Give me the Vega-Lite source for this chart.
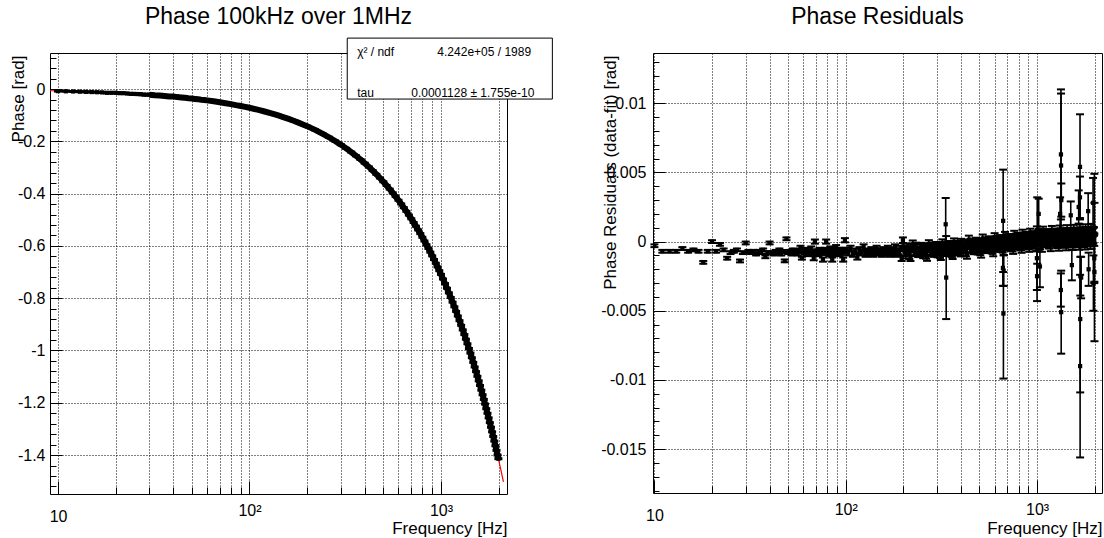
{
"$schema": "https://vega.github.io/schema/vega-lite/v6.json",
"background": "white",
"padding": {"left": 8, "top": 5, "right": 0, "bottom": 0},
"spacing": 146,
"bounds": "flush",
"config": {
 "font": "Liberation Sans",
 "view": {"stroke": "black", "strokeWidth": 1},
 "axis": {"domain": false, "labelFont": "Liberation Sans", "labelFontSize": 16, "labelColor": "black", "titleFont": "Liberation Sans", "titleFontSize": 17, "titleFontWeight": "normal", "titleColor": "black", "tickColor": "black", "tickWidth": 1, "grid": true, "gridColor": "black", "gridDash": [1, 2], "gridWidth": 1, "gridOpacity": 1, "labelFlush": false, "labelOverlap": false},
 "title": {"font": "Liberation Sans", "fontSize": 23, "fontWeight": "normal", "color": "black", "anchor": "middle", "frame": "group"},
 "text": {"font": "Liberation Sans", "color": "black"}
},
"datasets": {
 "phase": [
  {"f":10,"phase":-0.0078},{"f":11,"phase":-0.0085},{"f":12,"phase":-0.0092},{"f":13,"phase":-0.0099},{"f":14,"phase":-0.0106},{"f":15,"phase":-0.0113},{"f":16,"phase":-0.0120},{"f":17,"phase":-0.0127},{"f":18,"phase":-0.0143},{"f":19,"phase":-0.0142},{"f":20,"phase":-0.0142},{"f":21,"phase":-0.0156},{"f":22,"phase":-0.0158},{"f":23,"phase":-0.0169},{"f":24,"phase":-0.0182},{"f":25,"phase":-0.0185},{"f":26,"phase":-0.0191},{"f":27,"phase":-0.0197},{"f":28,"phase":-0.0212},{"f":29,"phase":-0.0214},{"f":30,"phase":-0.0214},
  {"f":32,"phase":-0.0235},{"f":34,"phase":-0.0250},{"f":36,"phase":-0.0263},{"f":38,"phase":-0.0280},{"f":40,"phase":-0.0284},{"f":42,"phase":-0.0307},{"f":44,"phase":-0.0320},{"f":46,"phase":-0.0335},{"f":48,"phase":-0.0354},{"f":50,"phase":-0.0362},{"f":52,"phase":-0.0378},{"f":54,"phase":-0.0391},{"f":56,"phase":-0.0406},{"f":58,"phase":-0.0415},{"f":60,"phase":-0.0432},
  {"f":65,"phase":-0.0469},{"f":70,"phase":-0.0504},{"f":75,"phase":-0.0539},{"f":80,"phase":-0.0575},{"f":85,"phase":-0.0615},{"f":90,"phase":-0.0646},{"f":95,"phase":-0.0681},{"f":100,"phase":-0.0715},
  {"f":110,"phase":-0.0787},{"f":120,"phase":-0.0858},{"f":130,"phase":-0.0928},{"f":140,"phase":-0.0999},{"f":150,"phase":-0.1070},{"f":160,"phase":-0.1141},{"f":170,"phase":-0.1212},{"f":180,"phase":-0.1283},{"f":190,"phase":-0.1354},{"f":200,"phase":-0.1418},
  {"f":220,"phase":-0.1559},{"f":240,"phase":-0.1701},{"f":260,"phase":-0.1843},{"f":280,"phase":-0.1985},{"f":300,"phase":-0.2126},{"f":320,"phase":-0.2268},{"f":340,"phase":-0.2410},{"f":360,"phase":-0.2552},{"f":380,"phase":-0.2693},{"f":400,"phase":-0.2835},
  {"f":420,"phase":-0.2977},{"f":440,"phase":-0.3119},{"f":460,"phase":-0.3260},{"f":480,"phase":-0.3402},{"f":500,"phase":-0.3544},{"f":520,"phase":-0.3686},{"f":540,"phase":-0.3827},{"f":560,"phase":-0.3969},{"f":580,"phase":-0.4111},{"f":600,"phase":-0.4253},
  {"f":620,"phase":-0.4394},{"f":640,"phase":-0.4536},{"f":660,"phase":-0.4678},{"f":680,"phase":-0.4820},{"f":700,"phase":-0.4961},{"f":720,"phase":-0.5103},{"f":740,"phase":-0.5245},{"f":760,"phase":-0.5387},{"f":780,"phase":-0.5528},{"f":800,"phase":-0.5670},
  {"f":820,"phase":-0.5812},{"f":840,"phase":-0.5954},{"f":860,"phase":-0.6095},{"f":880,"phase":-0.6237},{"f":900,"phase":-0.6379},{"f":920,"phase":-0.6521},{"f":940,"phase":-0.6662},{"f":960,"phase":-0.6804},{"f":980,"phase":-0.6946},{"f":1000,"phase":-0.7088},
  {"f":1025,"phase":-0.7265},{"f":1050,"phase":-0.7442},{"f":1075,"phase":-0.7619},{"f":1100,"phase":-0.7796},{"f":1125,"phase":-0.7973},{"f":1150,"phase":-0.8151},{"f":1175,"phase":-0.8328},{"f":1200,"phase":-0.8505},{"f":1225,"phase":-0.8682},{"f":1250,"phase":-0.8859},
  {"f":1275,"phase":-0.9037},{"f":1300,"phase":-0.9214},{"f":1325,"phase":-0.9391},{"f":1350,"phase":-0.9568},{"f":1375,"phase":-0.9745},{"f":1400,"phase":-0.9923},{"f":1425,"phase":-1.0100},{"f":1450,"phase":-1.0277},{"f":1475,"phase":-1.0454},{"f":1500,"phase":-1.0631},
  {"f":1525,"phase":-1.0808},{"f":1550,"phase":-1.0986},{"f":1575,"phase":-1.1163},{"f":1600,"phase":-1.1340},{"f":1625,"phase":-1.1517},{"f":1650,"phase":-1.1694},{"f":1675,"phase":-1.1872},{"f":1700,"phase":-1.2049},{"f":1725,"phase":-1.2226},{"f":1750,"phase":-1.2403},
  {"f":1775,"phase":-1.2580},{"f":1800,"phase":-1.2758},{"f":1825,"phase":-1.2935},{"f":1850,"phase":-1.3112},{"f":1875,"phase":-1.3289},{"f":1900,"phase":-1.3466},{"f":1925,"phase":-1.3643},{"f":1950,"phase":-1.3821},{"f":1975,"phase":-1.3998},{"f":1995,"phase":-1.4140}
 ],
 "fit": [
  {"f":9.08,"phase":-0.00644},{"f":10,"phase":-0.00709},{"f":12,"phase":-0.0085},{"f":15,"phase":-0.01063},{"f":20,"phase":-0.01418},{"f":25,"phase":-0.01772},{"f":30,"phase":-0.02126},{"f":40,"phase":-0.02835},{"f":50,"phase":-0.03544},{"f":70,"phase":-0.04961},{"f":100,"phase":-0.07088},{"f":150,"phase":-0.10631},{"f":200,"phase":-0.14175},{"f":300,"phase":-0.21263},{"f":400,"phase":-0.2835},{"f":500,"phase":-0.35438},{"f":600,"phase":-0.42525},{"f":800,"phase":-0.567},{"f":1000,"phase":-0.70875},{"f":1200,"phase":-0.8505},{"f":1400,"phase":-0.99225},{"f":1600,"phase":-1.134},{"f":1800,"phase":-1.27575},{"f":1900,"phase":-1.34663},{"f":2000,"phase":-1.4175},{"f":2060,"phase":-1.46003},{"f":2120,"phase":-1.50255}
 ],
 "box": [{"f":324,"f2":3819,"phase":0.195,"phase2":-0.0382}],
 "statsL": [{"f":365,"phase":0.1415,"t":"χ² / ndf"},{"f":365,"phase":-0.0165,"t":"tau"}],
 "statsR": [{"f":2958,"phase":0.1415,"t":"4.242e+05 / 1989"},{"f":3076,"phase":-0.0165,"t":"0.0001128  ± 1.755e-10"}],
 "resid": [
  {"f":10,"r":-0.0003,"e":0.0001},{"f":11,"r":-0.0007,"e":0.0001},{"f":12,"r":-0.0007,"e":0.0001},{"f":13,"r":-0.0007,"e":0.0001},{"f":14,"r":-0.0005,"e":0.0001},{"f":15,"r":-0.0007,"e":0.0001},{"f":16,"r":-0.0006,"e":0.0001},{"f":17,"r":-0.0007,"e":0.0001},{"f":18,"r":-0.0015,"e":0.0001},{"f":19,"r":-0.0007,"e":0.0001},
  {"f":20,"r":0,"e":0.0001},{"f":21,"r":-0.0007,"e":0.0001},{"f":22,"r":-0.0002,"e":0.0001},{"f":23,"r":-0.0006,"e":0.0001},{"f":24,"r":-0.0012,"e":0.0001},{"f":25,"r":-0.0008,"e":0.0001},{"f":26,"r":-0.0007,"e":0.0001},{"f":27,"r":-0.0006,"e":0.0001},{"f":28,"r":-0.0014,"e":0.0001},{"f":29,"r":-0.0008,"e":0.0001},
  {"f":30,"r":-0.0001,"e":0.0001},{"f":31,"r":-0.0007,"e":0.0001},{"f":32,"r":-0.0008,"e":0.0001},{"f":33,"r":-0.0007,"e":0.0001},{"f":34,"r":-0.0009,"e":0.0001},{"f":35,"r":-0.0007,"e":0.0001},{"f":36,"r":-0.0008,"e":0.0001},{"f":37,"r":-0.0006,"e":0.0001},{"f":38,"r":-0.0011,"e":0.0001},{"f":39,"r":-0.0008,"e":0.0001},
  {"f":40,"r":-0.0001,"e":0.0001},{"f":41,"r":-0.0008,"e":0.0001},{"f":42,"r":-0.0009,"e":0.0001},{"f":43,"r":-0.0007,"e":0.0001},{"f":44,"r":-0.0008,"e":0.0001},{"f":45,"r":-0.0006,"e":0.0001},{"f":46,"r":-0.0009,"e":0.0001},{"f":47,"r":-0.0007,"e":0.0001},{"f":48,"r":-0.0014,"e":0.0001},{"f":49,"r":0.0002,"e":0.0001},
  {"f":50,"r":-0.0008,"e":0.0001},{"f":51,"r":-0.0007,"e":0.0001},{"f":52,"r":-0.0009,"e":0.0001},{"f":53,"r":-0.0006,"e":0.0001},{"f":54,"r":-0.0008,"e":0.0001},{"f":55,"r":-0.0007,"e":0.0001},{"f":56,"r":-0.0009,"e":0.0001},{"f":57,"r":-0.0007,"e":0.0001},{"f":58,"r":-0.0004,"e":0.0001},{"f":59,"r":-0.0012,"e":0.0001},
  {"f":60,"r":-0.0007,"e":0.0001},{"f":61,"r":-0.0008,"e":0.00015},{"f":62,"r":-0.0006,"e":0.00015},{"f":63,"r":-0.0009,"e":0.00015},{"f":64,"r":-0.0007,"e":0.00015},{"f":65,"r":-0.0008,"e":0.00015},{"f":66,"r":-0.0005,"e":0.00015},{"f":67,"r":-0.0008,"e":0.00015},{"f":68,"r":-0.0012,"e":0.00015},{"f":69,"r":0,"e":0.00015},
  {"f":70,"r":-0.0008,"e":0.00015},{"f":71,"r":-0.0007,"e":0.00015},{"f":72,"r":-0.0009,"e":0.00015},{"f":73,"r":-0.0006,"e":0.00015},{"f":74,"r":-0.0008,"e":0.00015},{"f":75,"r":-0.0007,"e":0.00015},{"f":76,"r":-0.0013,"e":0.00015},{"f":77,"r":-0.0008,"e":0.00015},{"f":78,"r":-0.0006,"e":0.00015},{"f":79,"r":0,"e":0.00015},
  {"f":80,"r":-0.0008,"e":0.00015},{"f":81,"r":-0.0007,"e":0.00015},{"f":82,"r":-0.0009,"e":0.00015},{"f":83,"r":-0.0005,"e":0.00015},{"f":84,"r":-0.0008,"e":0.00015},{"f":85,"r":-0.0013,"e":0.00015},{"f":86,"r":-0.0007,"e":0.00015},{"f":87,"r":-0.0009,"e":0.00015},{"f":88,"r":-0.0006,"e":0.00015},{"f":89,"r":-0.0004,"e":0.00015},
  {"f":90,"r":-0.0008,"e":0.00015},{"f":91,"r":-0.0007,"e":0.00015},{"f":92,"r":-0.0006,"e":0.00015},{"f":93,"r":-0.0009,"e":0.00015},{"f":94,"r":-0.0007,"e":0.00015},{"f":95,"r":-0.0008,"e":0.00015},{"f":96,"r":-0.0006,"e":0.00015},{"f":97,"r":-0.0013,"e":0.00015},{"f":98,"r":-0.0007,"e":0.00015},{"f":99,"r":0.0001,"e":0.00015},
  {"f":100,"r":-0.0006,"e":0.00015},{"f":103,"r":-0.0008,"e":0.0002},{"f":106,"r":-0.0005,"e":0.0002},{"f":109,"r":-0.0009,"e":0.0002},{"f":112,"r":-0.0007,"e":0.0002},{"f":115,"r":-0.0011,"e":0.0002},{"f":118,"r":-0.0006,"e":0.0002},{"f":121,"r":-0.0008,"e":0.0002},{"f":124,"r":-0.0004,"e":0.0002},{"f":127,"r":-0.0009,"e":0.0002},
  {"f":130,"r":-0.0007,"e":0.0002},{"f":133,"r":-0.0008,"e":0.0002},{"f":136,"r":-0.0006,"e":0.0002},{"f":139,"r":-0.0009,"e":0.0002},{"f":142,"r":-0.0007,"e":0.0002},{"f":145,"r":-0.0005,"e":0.0002},{"f":148,"r":-0.0008,"e":0.0002},{"f":151,"r":-0.0007,"e":0.0002},{"f":154,"r":-0.0009,"e":0.0002},{"f":157,"r":-0.0006,"e":0.0002},
  {"f":160,"r":-0.0008,"e":0.0002},{"f":163,"r":-0.0007,"e":0.0002},{"f":166,"r":-0.0005,"e":0.0002},{"f":169,"r":-0.0009,"e":0.0002},{"f":172,"r":-0.0007,"e":0.0002},{"f":175,"r":-0.0008,"e":0.0002},{"f":178,"r":-0.0006,"e":0.0002},{"f":181,"r":-0.0004,"e":0.0002},{"f":184,"r":-0.0009,"e":0.0002},{"f":187,"r":-0.0007,"e":0.0002},
  {"f":190,"r":-0.0008,"e":0.0002},{"f":193,"r":-0.0005,"e":0.0002},{"f":196,"r":-0.0012,"e":0.0002},{"f":199,"r":0.0001,"e":0.0002},
  {"f":200,"r":-0.00035,"e":0.00024},{"f":206,"r":-0.0009,"e":0.00032},{"f":212,"r":-0.00055,"e":0.0002},{"f":218,"r":-0.00105,"e":0.00036},{"f":224,"r":-0.0002,"e":0.00028},{"f":230,"r":-0.00075,"e":0.00024},{"f":236,"r":-0.0006,"e":0.0004},{"f":242,"r":-0.00085,"e":0.00024},
  {"f":248,"r":-0.00033,"e":0.00024},{"f":254,"r":-0.00088,"e":0.00032},{"f":260,"r":-0.00053,"e":0.0002},{"f":266,"r":-0.00103,"e":0.00036},{"f":272,"r":-0.00018,"e":0.00028},{"f":278,"r":-0.00073,"e":0.00024},{"f":284,"r":-0.00058,"e":0.0004},{"f":290,"r":-0.00083,"e":0.00024},
  {"f":296,"r":-0.00027,"e":0.00024},{"f":302,"r":-0.00082,"e":0.00032},{"f":308,"r":-0.00047,"e":0.0002},{"f":314,"r":-0.00097,"e":0.00036},{"f":320,"r":-0.00012,"e":0.00028},{"f":326,"r":-0.00067,"e":0.00024},{"f":332,"r":-0.00052,"e":0.0004},{"f":338,"r":-0.00077,"e":0.00024},
  {"f":333,"r":0.00125,"e":0.0019},{"f":335,"r":-0.0026,"e":0.003},
  {"f":344,"r":-0.0002,"e":0.00024},{"f":350,"r":-0.00075,"e":0.00032},{"f":356,"r":-0.0004,"e":0.0002},{"f":362,"r":-0.0009,"e":0.00036},{"f":368,"r":-0.00005,"e":0.00028},{"f":374,"r":-0.0006,"e":0.00024},{"f":380,"r":-0.00045,"e":0.0004},{"f":386,"r":-0.0007,"e":0.00024},{"f":392,"r":-0.0002,"e":0.00024},{"f":398,"r":-0.00075,"e":0.00032},
  {"f":203,"r":-0.00075,"e":0.00032},{"f":209,"r":-0.000375,"e":0.00024},{"f":215,"r":-0.0009,"e":0.00036},{"f":221,"r":-0.0005,"e":0.00028},{"f":227,"r":-0.00065,"e":0.0004},{"f":233,"r":-0.000325,"e":0.00024},{"f":239,"r":-0.0008,"e":0.00032},{"f":245,"r":-0.000425,"e":0.00028},
  {"f":251,"r":-0.00073,"e":0.00032},{"f":257,"r":-0.000355,"e":0.00024},{"f":263,"r":-0.00088,"e":0.00036},{"f":269,"r":-0.00048,"e":0.00028},{"f":275,"r":-0.00063,"e":0.0004},{"f":281,"r":-0.000305,"e":0.00024},{"f":287,"r":-0.00078,"e":0.00032},{"f":293,"r":-0.000405,"e":0.00028},
  {"f":299,"r":-0.00067,"e":0.00032},{"f":305,"r":-0.000295,"e":0.00024},{"f":311,"r":-0.00082,"e":0.00036},{"f":317,"r":-0.00042,"e":0.00028},{"f":323,"r":-0.00057,"e":0.0004},{"f":329,"r":-0.000245,"e":0.00024},{"f":336,"r":-0.00072,"e":0.00032},{"f":341,"r":-0.000345,"e":0.00028},
  {"f":347,"r":-0.0006,"e":0.00032},{"f":353,"r":-0.000225,"e":0.00024},{"f":359,"r":-0.00075,"e":0.00036},{"f":365,"r":-0.00035,"e":0.00028},{"f":371,"r":-0.0005,"e":0.0004},{"f":377,"r":-0.000175,"e":0.00024},{"f":383,"r":-0.00065,"e":0.00032},{"f":389,"r":-0.000275,"e":0.00028},{"f":395,"r":-0.0006,"e":0.00032},
  {"f":400,"r":-0.00005,"e":0.00025},{"f":410,"r":-0.00071,"e":0.0003},{"f":420,"r":-0.00029,"e":0.0002},{"f":430,"r":-0.00089,"e":0.00035},{"f":440,"r":0.00013,"e":0.0003},{"f":450,"r":-0.00053,"e":0.00025},{"f":460,"r":-0.00035,"e":0.0004},{"f":470,"r":-0.00065,"e":0.00025},
  {"f":480,"r":0.00003,"e":0.00025},{"f":490,"r":-0.00063,"e":0.0003},{"f":500,"r":-0.00021,"e":0.0002},{"f":510,"r":-0.00081,"e":0.00035},{"f":520,"r":0.00021,"e":0.0003},{"f":530,"r":-0.00045,"e":0.00025},{"f":540,"r":-0.00027,"e":0.0004},{"f":550,"r":-0.00057,"e":0.00025},
  {"f":560,"r":0.00013,"e":0.00025},{"f":570,"r":-0.00053,"e":0.0003},{"f":580,"r":-0.00011,"e":0.0002},{"f":590,"r":-0.00071,"e":0.00035},{"f":600,"r":0.00031,"e":0.0003},{"f":610,"r":-0.00035,"e":0.00025},{"f":620,"r":-0.00017,"e":0.0004},{"f":630,"r":-0.00047,"e":0.00025},
  {"f":640,"r":0.00022,"e":0.00025},{"f":650,"r":-0.00044,"e":0.0003},{"f":660,"r":-0.00002,"e":0.0002},{"f":670,"r":-0.00062,"e":0.00035},{"f":680,"r":0.0004,"e":0.0003},{"f":690,"r":-0.00026,"e":0.00025},{"f":700,"r":-0.00008,"e":0.0004},{"f":710,"r":-0.00038,"e":0.00025},
  {"f":663,"r":-0.0019,"e":0.0013},{"f":665,"r":0.0015,"e":0.0037},{"f":667,"r":-0.0052,"e":0.0047},{"f":669,"r":-0.0021,"e":0.0011},
  {"f":720,"r":0.0003,"e":0.00025},{"f":730,"r":-0.00036,"e":0.0003},{"f":740,"r":0.00006,"e":0.0002},{"f":750,"r":-0.00054,"e":0.00035},{"f":760,"r":0.00048,"e":0.0003},{"f":770,"r":-0.00018,"e":0.00025},{"f":780,"r":0,"e":0.0004},{"f":790,"r":-0.0003,"e":0.00025},
  {"f":800,"r":0.00038,"e":0.00025},{"f":810,"r":-0.00028,"e":0.0003},{"f":820,"r":0.00014,"e":0.0002},{"f":830,"r":-0.00046,"e":0.00035},{"f":840,"r":0.00056,"e":0.0003},{"f":850,"r":-0.0001,"e":0.00025},{"f":860,"r":0.00008,"e":0.0004},{"f":870,"r":-0.00022,"e":0.00025},
  {"f":880,"r":0.00045,"e":0.00025},{"f":890,"r":-0.00021,"e":0.0003},{"f":900,"r":0.00021,"e":0.0002},{"f":910,"r":-0.00039,"e":0.00035},{"f":920,"r":0.00063,"e":0.0003},{"f":930,"r":-0.00003,"e":0.00025},{"f":940,"r":0.00015,"e":0.0004},{"f":950,"r":-0.00015,"e":0.00025},
  {"f":960,"r":0.0005,"e":0.00025},{"f":970,"r":-0.00016,"e":0.0003},{"f":980,"r":0.00026,"e":0.0002},{"f":990,"r":-0.00034,"e":0.00035},
  {"f":405,"r":-0.00053,"e":0.00032},{"f":415,"r":-0.00008,"e":0.00024},{"f":425,"r":-0.00071,"e":0.00036},{"f":435,"r":-0.00023,"e":0.00028},{"f":445,"r":-0.00041,"e":0.0004},{"f":455,"r":-0.00002,"e":0.00024},{"f":465,"r":-0.00059,"e":0.00032},{"f":475,"r":-0.00014,"e":0.00028},
  {"f":485,"r":-0.00045,"e":0.00032},{"f":495,"r":0,"e":0.00024},{"f":505,"r":-0.00063,"e":0.00036},{"f":515,"r":-0.00015,"e":0.00028},{"f":525,"r":-0.00033,"e":0.0004},{"f":535,"r":0.00006,"e":0.00024},{"f":545,"r":-0.00051,"e":0.00032},{"f":555,"r":-0.00006,"e":0.00028},
  {"f":565,"r":-0.00035,"e":0.00032},{"f":575,"r":0.0001,"e":0.00024},{"f":585,"r":-0.00053,"e":0.00036},{"f":595,"r":-0.00005,"e":0.00028},{"f":605,"r":-0.00023,"e":0.0004},{"f":615,"r":0.00016,"e":0.00024},{"f":625,"r":-0.00041,"e":0.00032},{"f":635,"r":0.00004,"e":0.00028},
  {"f":645,"r":-0.00026,"e":0.00032},{"f":655,"r":0.00019,"e":0.00024},{"f":661,"r":-0.00044,"e":0.00036},{"f":675,"r":0.00004,"e":0.00028},{"f":685,"r":-0.00014,"e":0.0004},{"f":695,"r":0.00025,"e":0.00024},{"f":705,"r":-0.00032,"e":0.00032},{"f":715,"r":0.00013,"e":0.00028},
  {"f":725,"r":-0.00018,"e":0.00032},{"f":735,"r":0.00027,"e":0.00024},{"f":745,"r":-0.00036,"e":0.00036},{"f":755,"r":0.00012,"e":0.00028},{"f":765,"r":-0.00006,"e":0.0004},{"f":775,"r":0.00033,"e":0.00024},{"f":785,"r":-0.00024,"e":0.00032},{"f":795,"r":0.00021,"e":0.00028},
  {"f":805,"r":-0.0001,"e":0.00032},{"f":815,"r":0.00035,"e":0.00024},{"f":825,"r":-0.00028,"e":0.00036},{"f":835,"r":0.0002,"e":0.00028},{"f":845,"r":0.00002,"e":0.0004},{"f":855,"r":0.00041,"e":0.00024},{"f":865,"r":-0.00016,"e":0.00032},{"f":875,"r":0.00029,"e":0.00028},
  {"f":885,"r":-0.00003,"e":0.00032},{"f":895,"r":0.00042,"e":0.00024},{"f":905,"r":-0.00021,"e":0.00036},{"f":915,"r":0.00027,"e":0.00028},{"f":925,"r":0.00009,"e":0.0004},{"f":935,"r":0.00048,"e":0.00024},{"f":945,"r":-0.00009,"e":0.00032},{"f":955,"r":0.00036,"e":0.00028},
  {"f":965,"r":0.00002,"e":0.00032},{"f":975,"r":0.00047,"e":0.00024},{"f":985,"r":-0.00016,"e":0.00036},{"f":995,"r":0.00032,"e":0.00028},
  {"f":998,"r":-0.0012,"e":0.0023},{"f":1000,"r":-0.0025,"e":0.0018},{"f":1002,"r":0.0008,"e":0.0024},
  {"f":1015,"r":0.00055,"e":0.0003},{"f":1030,"r":-0.00011,"e":0.0004},{"f":1045,"r":0.00031,"e":0.00025},{"f":1060,"r":-0.00029,"e":0.00045},{"f":1075,"r":0.00073,"e":0.00035},{"f":1090,"r":0.00007,"e":0.0003},{"f":1105,"r":0.00025,"e":0.0005},{"f":1120,"r":-0.00005,"e":0.0003},
  {"f":1020,"r":0.002,"e":0.0011},{"f":1035,"r":-0.0018,"e":0.0015},
  {"f":1135,"r":0.0006,"e":0.0003},{"f":1150,"r":-0.00006,"e":0.0004},{"f":1165,"r":0.00036,"e":0.00025},{"f":1180,"r":-0.00024,"e":0.00045},{"f":1195,"r":0.00078,"e":0.00035},{"f":1210,"r":0.00012,"e":0.0003},{"f":1225,"r":0.0003,"e":0.0005},{"f":1240,"r":0,"e":0.0003},
  {"f":1255,"r":0.00063,"e":0.0003},{"f":1270,"r":-0.00003,"e":0.0004},{"f":1285,"r":0.00039,"e":0.00025},{"f":1300,"r":-0.00021,"e":0.00045},{"f":1315,"r":0.00081,"e":0.00035},{"f":1330,"r":0.00015,"e":0.0003},{"f":1345,"r":0.00033,"e":0.0005},{"f":1360,"r":0.00003,"e":0.0003},
  {"f":1320,"r":0.002,"e":0.0012},{"f":1331,"r":-0.0035,"e":0.0012},{"f":1333,"r":0.0063,"e":0.0047},{"f":1335,"r":0.0055,"e":0.0052},{"f":1337,"r":-0.0051,"e":0.003},{"f":1339,"r":0.003,"e":0.0012},
  {"f":1375,"r":0.00066,"e":0.0003},{"f":1390,"r":0,"e":0.0004},{"f":1405,"r":0.00042,"e":0.00025},{"f":1420,"r":-0.00018,"e":0.00045},{"f":1435,"r":0.00084,"e":0.00035},{"f":1450,"r":0.00018,"e":0.0003},{"f":1465,"r":0.00036,"e":0.0005},{"f":1480,"r":0.00006,"e":0.0003},
  {"f":1495,"r":0.00068,"e":0.0003},{"f":1510,"r":0.00002,"e":0.0004},{"f":1525,"r":0.00044,"e":0.00025},{"f":1540,"r":-0.00016,"e":0.00045},{"f":1555,"r":0.00086,"e":0.00035},{"f":1570,"r":0.0002,"e":0.0003},{"f":1585,"r":0.00038,"e":0.0005},{"f":1600,"r":0.00008,"e":0.0003},
  {"f":1500,"r":0.0019,"e":0.001},{"f":1520,"r":-0.0017,"e":0.0011},
  {"f":1615,"r":0.0007,"e":0.0003},{"f":1630,"r":0.00004,"e":0.0004},{"f":1645,"r":0.00046,"e":0.00025},{"f":1660,"r":-0.00014,"e":0.00045},{"f":1675,"r":0.00088,"e":0.00035},{"f":1690,"r":0.00022,"e":0.0003},{"f":1705,"r":0.0004,"e":0.0005},{"f":1720,"r":0.0001,"e":0.0003},
  {"f":1650,"r":0.0025,"e":0.0012},{"f":1676,"r":0.0032,"e":0.0015},{"f":1677,"r":0.0054,"e":0.0038},{"f":1679,"r":-0.009,"e":0.0066},{"f":1681,"r":-0.0056,"e":0.0053},{"f":1683,"r":-0.0025,"e":0.0014},{"f":1700,"r":-0.0026,"e":0.0015},
  {"f":1735,"r":0.00072,"e":0.0003},{"f":1750,"r":0.00006,"e":0.0004},{"f":1765,"r":0.00048,"e":0.00025},{"f":1780,"r":-0.00012,"e":0.00045},{"f":1795,"r":0.0009,"e":0.00035},{"f":1810,"r":0.00024,"e":0.0003},{"f":1825,"r":0.00042,"e":0.0005},{"f":1840,"r":0.00012,"e":0.0003},
  {"f":1850,"r":0.0022,"e":0.0013},{"f":1860,"r":-0.002,"e":0.0012},
  {"f":1855,"r":0.00075,"e":0.0003},{"f":1870,"r":0.00009,"e":0.0004},{"f":1885,"r":0.00051,"e":0.00025},{"f":1900,"r":-0.00009,"e":0.00045},{"f":1915,"r":0.00093,"e":0.00035},{"f":1930,"r":0.00027,"e":0.0003},{"f":1945,"r":0.00045,"e":0.0005},{"f":1960,"r":0.00015,"e":0.0003},
  {"f":1962,"r":0.0028,"e":0.0018},{"f":1970,"r":-0.003,"e":0.002},{"f":1975,"r":0.00075,"e":0.0003},{"f":1990,"r":0.00009,"e":0.0004},
  {"f":1991,"r":-0.0012,"e":0.0018},{"f":1993,"r":0.001,"e":0.0039},{"f":1995,"r":-0.0022,"e":0.005},
  {"f":1008,"r":0.00007,"e":0.0004},{"f":1023,"r":0.00052,"e":0.0003},{"f":1038,"r":-0.00011,"e":0.00045},{"f":1053,"r":0.00037,"e":0.00035},{"f":1068,"r":0.00019,"e":0.0005},{"f":1083,"r":0.00058,"e":0.0003},{"f":1098,"r":0.00001,"e":0.0004},{"f":1113,"r":0.00046,"e":0.00035},
  {"f":1128,"r":0.00012,"e":0.0004},{"f":1143,"r":0.00057,"e":0.0003},{"f":1158,"r":-0.00006,"e":0.00045},{"f":1173,"r":0.00042,"e":0.00035},{"f":1188,"r":0.00024,"e":0.0005},{"f":1203,"r":0.00063,"e":0.0003},{"f":1218,"r":0.00006,"e":0.0004},{"f":1233,"r":0.00051,"e":0.00035},
  {"f":1248,"r":0.00015,"e":0.0004},{"f":1263,"r":0.0006,"e":0.0003},{"f":1278,"r":-0.00003,"e":0.00045},{"f":1293,"r":0.00045,"e":0.00035},{"f":1308,"r":0.00027,"e":0.0005},{"f":1323,"r":0.00066,"e":0.0003},{"f":1338,"r":0.00009,"e":0.0004},{"f":1353,"r":0.00054,"e":0.00035},
  {"f":1368,"r":0.00018,"e":0.0004},{"f":1383,"r":0.00063,"e":0.0003},{"f":1398,"r":0,"e":0.00045},{"f":1413,"r":0.00048,"e":0.00035},{"f":1428,"r":0.0003,"e":0.0005},{"f":1443,"r":0.00069,"e":0.0003},{"f":1458,"r":0.00012,"e":0.0004},{"f":1473,"r":0.00057,"e":0.00035},
  {"f":1488,"r":0.0002,"e":0.0004},{"f":1503,"r":0.00065,"e":0.0003},{"f":1518,"r":0.00002,"e":0.00045},{"f":1533,"r":0.0005,"e":0.00035},{"f":1548,"r":0.00032,"e":0.0005},{"f":1563,"r":0.00071,"e":0.0003},{"f":1578,"r":0.00014,"e":0.0004},{"f":1593,"r":0.00059,"e":0.00035},
  {"f":1608,"r":0.00022,"e":0.0004},{"f":1623,"r":0.00067,"e":0.0003},{"f":1638,"r":0.00004,"e":0.00045},{"f":1653,"r":0.00052,"e":0.00035},{"f":1668,"r":0.00034,"e":0.0005},{"f":1684,"r":0.00073,"e":0.0003},{"f":1698,"r":0.00016,"e":0.0004},{"f":1713,"r":0.00061,"e":0.00035},
  {"f":1728,"r":0.00024,"e":0.0004},{"f":1743,"r":0.00069,"e":0.0003},{"f":1758,"r":0.00006,"e":0.00045},{"f":1773,"r":0.00054,"e":0.00035},{"f":1788,"r":0.00036,"e":0.0005},{"f":1803,"r":0.00075,"e":0.0003},{"f":1818,"r":0.00018,"e":0.0004},{"f":1833,"r":0.00063,"e":0.00035},
  {"f":1848,"r":0.00027,"e":0.0004},{"f":1863,"r":0.00072,"e":0.0003},{"f":1878,"r":0.00009,"e":0.00045},{"f":1893,"r":0.00057,"e":0.00035},{"f":1908,"r":0.00039,"e":0.0005},{"f":1923,"r":0.00078,"e":0.0003},{"f":1938,"r":0.00021,"e":0.0004},{"f":1953,"r":0.00066,"e":0.00035},
  {"f":1968,"r":0.00027,"e":0.0004},{"f":1983,"r":0.00072,"e":0.0003}
 ]
},
"hconcat": [
 {
  "width": 457, "height": 441,
  "title": {"text": "Phase 100kHz over 1MHz", "offset": 9},
  "encoding": {
   "x": {"field": "f", "type": "quantitative",
    "scale": {"type": "log", "domain": [9.08, 2213], "nice": false},
    "axis": {
     "values": [10,20,30,40,50,60,70,80,90,100,200,300,400,500,600,700,800,900,1000,2000],
     "labelExpr": "datum.value == 10 ? '10' : datum.value == 100 ? '10²' : datum.value == 1000 ? '10³' : ''",
     "tickSize": {"condition": {"test": "datum.value == 10 || datum.value == 100 || datum.value == 1000", "value": -13}, "value": -7},
     "labelPadding": {"condition": {"test": "datum.value == 10", "value": 27}, "value": 21},
     "labelBaseline": "top",
     "title": "Frequency [Hz]", "titleAnchor": "end", "titleAlign": "right", "titleBaseline": "alphabetic", "titleY": 39
    }
   },
   "y": {"field": "phase", "type": "quantitative",
    "scale": {"domain": [-1.549, 0.138], "nice": false, "zero": false},
    "axis": {
     "values": [0.12,0.08,0.04,0,-0.04,-0.08,-0.12,-0.16,-0.2,-0.24,-0.28,-0.32,-0.36,-0.4,-0.44,-0.48,-0.52,-0.56,-0.6,-0.64,-0.68,-0.72,-0.76,-0.8,-0.84,-0.88,-0.92,-0.96,-1,-1.04,-1.08,-1.12,-1.16,-1.2,-1.24,-1.28,-1.32,-1.36,-1.4,-1.44,-1.48,-1.52],
     "labelExpr": "abs(datum.value*5 - round(datum.value*5)) < 0.01 ? (datum.value < -0.01 ? '-' + format(-datum.value, '~g') : '0') : ''",
     "tickSize": {"condition": {"test": "abs(datum.value*5 - round(datum.value*5)) < 0.01", "value": -12}, "value": -6},
     "gridOpacity": {"condition": {"test": "abs(datum.value*5 - round(datum.value*5)) < 0.01", "value": 1}, "value": 0},
     "labelPadding": 17,
     "title": "Phase [rad]", "titleAngle": 270, "titleAlign": "right", "titleBaseline": "alphabetic", "titleX": -27, "titleY": 2
    }
   }
  },
  "layer": [
   {"data": {"name": "fit"}, "mark": {"type": "line", "color": "#ff0000", "strokeWidth": 1.2, "clip": true}},
   {"data": {"name": "phase"}, "transform": [{"filter": "datum.f >= 30"}], "mark": {"type": "line", "color": "black", "strokeWidth": 6, "strokeCap": "butt", "clip": true}},
   {"data": {"name": "phase"}, "mark": {"type": "tick", "orient": "horizontal", "size": 8, "thickness": 3, "color": "black", "opacity": 1, "clip": true}},
   {"data": {"name": "phase"}, "mark": {"type": "square", "size": 18, "color": "black", "opacity": 1, "clip": true}},
   {"data": {"name": "box"}, "mark": {"type": "rect", "fill": "white", "stroke": "black", "strokeWidth": 1, "clip": false}, "encoding": {"x2": {"field": "f2"}, "y2": {"field": "phase2"}}},
   {"data": {"name": "statsL"}, "mark": {"type": "text", "align": "left", "baseline": "middle", "fontSize": 12, "clip": false}, "encoding": {"text": {"field": "t"}}},
   {"data": {"name": "statsR"}, "mark": {"type": "text", "align": "right", "baseline": "middle", "fontSize": 12, "clip": false}, "encoding": {"text": {"field": "t"}}}
  ]
 },
 {
  "width": 449, "height": 440,
  "title": {"text": "Phase Residuals", "offset": 24},
  "data": {"name": "resid"},
  "encoding": {
   "x": {"field": "f", "type": "quantitative",
    "scale": {"type": "log", "domain": [9.83, 2185], "nice": false},
    "axis": {
     "values": [10,20,30,40,50,60,70,80,90,100,200,300,400,500,600,700,800,900,1000,2000],
     "labelExpr": "datum.value == 10 ? '10' : datum.value == 100 ? '10²' : datum.value == 1000 ? '10³' : ''",
     "tickSize": {"condition": {"test": "datum.value == 10 || datum.value == 100 || datum.value == 1000", "value": -13}, "value": -7},
     "labelPadding": {"condition": {"test": "datum.value == 10", "value": 27}, "value": 21},
     "labelBaseline": "top",
     "title": "Frequency [Hz]", "titleAnchor": "end", "titleAlign": "right", "titleBaseline": "alphabetic", "titleY": 40
    }
   },
   "y": {"field": "r", "type": "quantitative",
    "scale": {"domain": [-0.01817, 0.01363], "nice": false, "zero": false},
    "axis": {
     "values": [0.013,0.012,0.011,0.01,0.009,0.008,0.007,0.006,0.005,0.004,0.003,0.002,0.001,0,-0.001,-0.002,-0.003,-0.004,-0.005,-0.006,-0.007,-0.008,-0.009,-0.01,-0.011,-0.012,-0.013,-0.014,-0.015,-0.016,-0.017,-0.018],
     "labelExpr": "abs(datum.value*200 - round(datum.value*200)) < 0.01 ? (datum.value < -0.000001 ? '-' + format(-datum.value, '~g') : (datum.value > 0.000001 ? format(datum.value, '~g') : '0')) : ''",
     "tickSize": {"condition": {"test": "abs(datum.value*200 - round(datum.value*200)) < 0.01", "value": -12}, "value": -6},
     "gridOpacity": {"condition": {"test": "abs(datum.value*200 - round(datum.value*200)) < 0.01", "value": 1}, "value": 0},
     "labelPadding": 19,
     "title": "Phase Residuals (data-fit) [rad]", "titleAngle": 270, "titleAlign": "right", "titleBaseline": "alphabetic", "titleX": -38, "titleY": 2
    }
   }
  },
  "layer": [
   {"mark": {"type": "errorbar", "color": "black", "rule": {"color": "black", "strokeWidth": 1.6, "opacity": 1}, "ticks": {"size": 8, "thickness": 2, "color": "black", "opacity": 1}}, "encoding": {"yError": {"field": "e"}}},
   {"mark": {"type": "square", "size": 18, "color": "black", "opacity": 1, "clip": true}}
  ]
 }
]
}
